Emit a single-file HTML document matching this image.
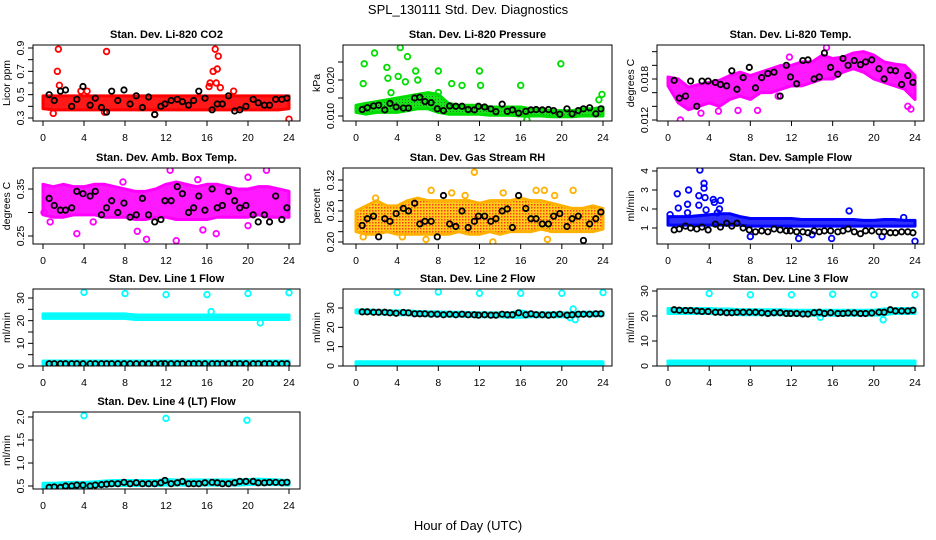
<!DOCTYPE html>
<html><head><meta charset="utf-8">
<style>
html,body{margin:0;padding:0;background:#fff;}
svg{display:block;font-family:"Liberation Sans",Arial,sans-serif;}
</style></head>
<body>
<svg id="chart" width="936" height="540" viewBox="0 0 936 540" xmlns="http://www.w3.org/2000/svg">
<defs>
<pattern id="rhpat" width="3" height="3" patternUnits="userSpaceOnUse"><rect width="3" height="3" fill="#ffc800"/><rect width="1.5" height="1.5" fill="#ff2a00"/></pattern>
<pattern id="prpat" width="3" height="3" patternUnits="userSpaceOnUse"><rect width="3" height="3" fill="#00e000"/><rect width="1" height="1" fill="#007000"/></pattern>
</defs>
<text x="468" y="14" font-size="13" text-anchor="middle">SPL_130111  Std. Dev. Diagnostics</text>
<text x="468" y="530" font-size="13" text-anchor="middle">Hour of Day (UTC)</text>
</svg>
<script>
// shared x positions (hour) of black points
const blackX=[0.6,1.1,1.7,2.2,2.8,3.3,3.9,4.6,5.1,5.7,6.2,6.7,7.3,7.9,8.5,9.1,9.7,10.3,10.9,11.5,11.9,12.5,13.1,13.6,14.2,14.7,15.2,15.8,16.5,17.0,17.5,18.1,18.7,19.2,19.8,20.5,21.0,21.6,22.1,22.7,23.3,23.8];
const bandHours=[0,1,2,3,4,5,6,7,8,9,10,11,12,13,14,15,16,17,18,19,20,21,22,23,24];
const xTicks=[0,4,8,12,16,20,24];

// Panel 1 CO2
const co2Hi=[.49,.49,.49,.49,.49,.49,.49,.49,.49,.49,.49,.49,.49,.49,.49,.49,.49,.49,.49,.49,.49,.49,.49,.49,.49];
const co2Lo=[.38,.37,.37,.37,.37,.37,.37,.37,.37,.37,.37,.37,.37,.37,.37,.37,.37,.37,.37,.37,.37,.37,.37,.37,.38];
const co2OutX=[1.5,1.4,1.6,6.2,16.8,17.1,17.0,16.6,16.9,16.2,16.3,17.3,24,10.9,3.7,4.3,18.6,1.0,6.0];
const co2OutY=[.89,.70,.58,.87,.89,.83,.72,.70,.60,.57,.60,.56,.29,.33,.53,.53,.53,.34,.35];
const co2Black=[.50,.45,.53,.54,.40,.46,.57,.41,.47,.39,.35,.53,.45,.54,.42,.49,.39,.48,.33,.40,.42,.45,.46,.44,.41,.45,.53,.47,.37,.42,.42,.49,.36,.37,.40,.46,.43,.41,.41,.46,.46,.47];
// Panel 2 Pressure
const prHi=[.013,.0135,.014,.0145,.015,.0155,.016,.0165,.016,.0135,.013,.013,.013,.0125,.0125,.0125,.0125,.012,.012,.0115,.0115,.0115,.012,.012,.0125];
const prLo=[.011,.0105,.011,.011,.011,.0115,.012,.012,.011,.0105,.0105,.0105,.0105,.0102,.0102,.0102,.010,.010,.010,.0098,.0098,.0098,.010,.010,.010];
const prOutX=[0.8,0.7,1.8,3.0,3.1,4.3,4.1,5.0,4.8,3.4,5.8,6.0,8.0,8.0,9.3,10.3,12.0,12.1,16.0,19.9,23.9,23.6,16.6];
const prOutY=[.0245,.019,.0275,.0235,.0205,.029,.021,.0265,.0195,.0165,.0225,.020,.0225,.0165,.019,.0185,.0225,.0185,.0185,.0245,.016,.0145,.009];
const prBlack=[.0118,.0123,.0128,.0130,.0117,.0135,.0125,.0122,.0122,.0150,.0152,.0140,.0137,.0120,.0115,.0128,.0127,.0127,.0118,.0117,.0127,.0125,.0120,.0112,.0133,.0113,.0117,.0108,.0113,.0117,.0118,.0117,.0118,.0115,.0105,.0120,.0106,.0115,.0120,.0123,.0106,.0120];
// Panel 3 Li-820 Temp
const tHi=[.0183,.0180,.0168,.0172,.0175,.0178,.0185,.0190,.0185,.0190,.0195,.0200,.0200,.0205,.0205,.0215,.0210,.0212,.0218,.0220,.0215,.0205,.0202,.0200,.0185];
const tLo=[.0170,.0145,.0135,.0140,.0145,.0140,.0150,.0155,.0150,.0160,.0160,.0165,.0170,.0170,.0175,.0180,.0180,.0190,.0195,.0190,.0180,.0175,.0170,.0165,.0150];
const tOutX=[1.2,3.2,4.9,6.8,8.7,15.4,23.6,23.3,10.7,11.8];
const tOutY=[.0120,.0130,.0133,.0134,.0134,.0226,.0136,.0140,.0155,.0212];
const tBlack=[.0178,.0152,.0155,.0177,.0140,.0177,.0177,.0175,.0172,.0170,.0192,.0165,.0182,.0197,.0167,.0182,.0188,.0190,.0155,.0200,.0183,.0173,.0207,.0208,.0180,.0183,.0218,.0197,.0187,.0210,.0200,.0207,.0201,.0205,.0208,.0195,.0180,.0193,.0192,.0172,.0185,.0175];
// Panel 4 Amb Box Temp
const abHi=[.36,.355,.36,.355,.355,.36,.36,.355,.35,.345,.345,.35,.36,.365,.36,.355,.36,.36,.355,.35,.35,.355,.355,.35,.345];
const abLo=[.295,.29,.29,.295,.295,.295,.29,.29,.29,.285,.285,.29,.29,.285,.285,.285,.285,.29,.29,.29,.29,.295,.29,.29,.29];
const abOutX=[3.3,9.2,10.1,13,15.6,16.9,20.0,21.8,12.4,20.0,15.1,0.1,0.7,4.9,7.8];
const abOutY=[.255,.26,.243,.24,.263,.255,.272,.39,.39,.375,.37,.30,.28,.28,.365];
const abBlack=[.33,.315,.305,.305,.31,.345,.34,.335,.345,.295,.31,.325,.30,.32,.29,.295,.33,.295,.28,.285,.325,.325,.355,.34,.30,.31,.335,.305,.35,.31,.315,.345,.325,.31,.315,.295,.28,.295,.28,.335,.285,.31];
// Panel 5 Gas Stream RH
const rhHi=[.26,.27,.28,.27,.27,.28,.285,.28,.28,.28,.28,.28,.275,.28,.28,.28,.285,.28,.28,.275,.27,.265,.265,.27,.265];
const rhLo=[.22,.215,.215,.22,.215,.215,.215,.215,.215,.215,.22,.215,.215,.22,.215,.22,.22,.22,.225,.22,.22,.22,.22,.22,.225];
const rhOutX=[11.5,13.3,7.3,9.3,10.6,14.3,17.5,18.3,19.3,21.1,18.6,1.9,0.7,4.5,6.8];
const rhOutY=[.335,.20,.30,.295,.29,.295,.30,.30,.29,.30,.205,.285,.21,.21,.205];
const rhBlack=[.232,.245,.25,.21,.245,.24,.255,.265,.26,.275,.235,.24,.24,.21,.29,.235,.23,.26,.228,.24,.25,.25,.24,.245,.26,.264,.228,.29,.265,.245,.245,.235,.235,.25,.255,.23,.245,.25,.203,.235,.245,.258];
// Panel 6 Sample Flow
const sfHi=[1.6,1.6,1.6,1.65,1.7,1.75,1.75,1.6,1.5,1.5,1.5,1.5,1.5,1.45,1.45,1.45,1.45,1.45,1.45,1.4,1.4,1.45,1.45,1.4,1.4];
const sfLo=[1.15,1.15,1.15,1.15,1.15,1.15,1.15,1.15,1.1,1.1,1.1,1.1,1.1,1.1,1.1,1.1,1.1,1.1,1.1,1.1,1.1,1.1,1.1,1.1,1.1];
const sfOutX=[0.2,0.9,1.0,1.9,2.0,1.9,3.1,3.0,3.0,3.5,3.5,3.6,3.7,4.4,4.5,5.1,5.0,4.8,8.0,12.7,14.0,15.9,17.6,20.8,24.0,22.9];
const sfOutY=[1.7,2.8,2.05,2.25,3.0,1.8,4.05,2.2,2.7,3.35,3.1,2.6,1.95,2.5,2.35,2.45,2.0,1.8,0.55,0.45,0.65,0.45,1.9,0.55,0.3,1.55];
const sfBlack=[0.9,0.95,1.1,1.0,0.95,1.05,0.9,1.2,1.05,1.25,1.1,1.25,1.0,0.9,0.8,0.85,0.8,0.95,0.9,0.85,0.85,0.8,0.8,0.75,0.85,0.8,0.85,0.85,0.8,0.85,0.95,0.8,0.7,0.85,0.85,0.8,0.8,0.75,0.75,0.8,0.8,0.75];
// Panel 7 Line 1 Flow
const l1Hi=[23,23,23,23,23,23,23,23,23,22.5,22.5,22.5,22.5,22.5,22.5,22.5,22.5,22.5,22.5,22.5,22.5,22.5,22.5,22.5,22.5];
const l1Lo=[21,21,21,21,21,21,21,21,21,20.5,20.5,20.5,20.5,20.5,20.5,20.5,20.5,20.5,20.5,20.5,20.5,20.5,20.5,20.5,20.5];
const l1Hi2=[2.2,2.2,2.2,2.2,2.2,2.2,2.2,2.2,2.2,2.2,2.2,2.2,2.2,2.2,2.2,2.2,2.2,2.2,2.2,2.2,2.2,2.2,2.2,2.2,2.2];
const l1Lo2=[0.3,0.3,0.3,0.3,0.3,0.3,0.3,0.3,0.3,0.3,0.3,0.3,0.3,0.3,0.3,0.3,0.3,0.3,0.3,0.3,0.3,0.3,0.3,0.3,0.3];
const l1OutX=[4,8,12,16,20,24,16.4,21.2];
const l1OutY=[32.5,32,31.5,31.5,32,32.3,24,19];
const l1Black=[1,1,1,1,1,1,1,1,1,1,1,1,1,1,1,1,1,1,1,1,1,1,1,1,1,1,1,1,1,1,1,1,1,1,1,1,1,1,1,1,1,1];
// Panel 8 Line 2 Flow
const l2Hi=[29,29,28.8,28.6,28.5,28.5,28.2,28,28,27.8,27.8,27.6,27.5,27.5,27.5,27.5,28.5,27.5,27.5,27.5,27.5,27.5,27.8,27.8,27.8];
const l2Lo=[27.5,27.2,27,26.8,26.5,26.5,26.2,26,26,25.8,25.8,25.6,25.5,25.5,25.5,25.2,25.2,25.5,25.5,25.5,25.5,25.5,26,26,26];
const l2Hi2=[2.2,2.2,2.2,2.2,2.2,2.2,2.2,2.2,2.2,2.2,2.2,2.2,2.2,2.2,2.2,2.2,2.2,2.2,2.2,2.2,2.2,2.2,2.2,2.2,2.2];
const l2Lo2=[0.7,0.7,0.7,0.7,0.7,0.7,0.7,0.7,0.7,0.7,0.7,0.7,0.7,0.7,0.7,0.7,0.7,0.7,0.7,0.7,0.7,0.7,0.7,0.7,0.7];
const l2OutX=[4,8,12,16,20,24,21.1,21.3,20.8];
const l2OutY=[38,38.3,37.6,37.6,37.6,38,29.5,24,25];
const l2Black=[28,28,27.8,27.8,27.8,27.5,27.3,27.7,27.5,27,27,27,26.8,26.8,26.5,26.8,26.5,26.8,26.5,26.5,26.3,26.5,26.3,26.3,26.8,26.5,26.5,27.5,26.5,27,26.5,26.5,26.3,26.5,26.8,26.3,26.5,26.8,26.8,26.8,27,27];
// Panel 9 Line 3 Flow
const l3Hi=[23,23,23,23,23,22.8,22.8,22.5,22.5,22.5,22.5,22.5,22.3,22.3,22.3,22.3,22.3,22.3,22.3,22.3,22.3,22.8,23,23,23];
const l3Lo=[21,21,21,21,21,20.8,20.8,20.5,20.5,20.5,20.5,20.5,20.3,20.3,20.3,20.3,20.3,20.3,20.3,20.3,20.3,20.5,21,21,21];
const l3Hi2=[2,2,2,2,2,2,2,2,2,2,2,2,2,2,2,2,2,2,2,2,2,2,2,2,2];
const l3Lo2=[0.5,0.5,0.5,0.5,0.5,0.5,0.5,0.5,0.5,0.5,0.5,0.5,0.5,0.5,0.5,0.5,0.5,0.5,0.5,0.5,0.5,0.5,0.5,0.5,0.5];
const l3OutX=[4,8,12,16,20,24,20.9,14.8];
const l3OutY=[29,28.5,28.5,28.7,28.5,28.5,18.5,19.5];
const l3Black=[22.5,22.3,22.2,22.2,22,21.8,21.8,21.5,21.5,21.3,21.3,21.5,21.5,21.5,21.5,21.3,21,21.3,21.3,21,21,21,20.8,20.8,21.3,21.5,21,21.3,21,21,21.2,21.2,21,21,21.2,21.5,21.5,22.5,22,22,22,22.3];
// Panel 10 Line 4 Flow
const l4Hi=[.56,.56,.57,.58,.58,.59,.61,.62,.62,.62,.62,.62,.64,.63,.63,.63,.63,.63,.63,.63,.64,.65,.64,.63,.62];
const l4Lo=[.44,.45,.46,.47,.47,.49,.50,.51,.51,.51,.51,.51,.52,.52,.52,.52,.52,.52,.52,.52,.53,.53,.53,.53,.52];
const l4OutX=[4,12,19.9];
const l4OutY=[2.03,1.97,1.93];
const l4Black=[.47,.48,.47,.50,.50,.52,.52,.50,.52,.53,.54,.55,.55,.58,.55,.57,.55,.55,.55,.57,.62,.55,.57,.60,.55,.55,.55,.57,.58,.57,.55,.55,.57,.60,.60,.60,.57,.57,.58,.58,.57,.58];

const svg=document.getElementById('chart');
const NS='http://www.w3.org/2000/svg';
function mk(tag,attrs,parent){const e=document.createElementNS(NS,tag);for(const k in attrs)e.setAttribute(k,attrs[k]);(parent||svg).appendChild(e);return e;}

const cols=[{bx0:33,bx1:300,x0:43,x1:289},{bx0:343,bx1:612,x0:356,x1:603},{bx0:657,bx1:924,x0:668,x1:915}];
const rows=[{by0:45,by1:121},{by0:168,by1:244},{by0:289,by1:366},{by0:412,by1:489}];

const panels=[
 {name:'co2',title:'Stan. Dev. Li-820 CO2',ylab:'Licor ppm',c:0,r:0,ref:[0.3,118,0.9,48],ticks:[.3,.4,.5,.6,.7,.8,.9],labels:[.3,.5,.7,.9],dec:1,col:'#ff0000',fill:'#ff0000',hi:co2Hi,lo:co2Lo,ox:co2OutX,oy:co2OutY,blk:co2Black},
 {name:'pressure',title:'Stan. Dev. Li-820 Pressure',ylab:'kPa',c:1,r:0,ref:[0.010,116,0.020,80],ticks:[.010,.015,.020,.025],labels:[.010,.020],dec:3,col:'#00dd00',fill:'url(#prpat)',hi:prHi,lo:prLo,ox:prOutX,oy:prOutY,blk:prBlack},
 {name:'li820-temp',title:'Stan. Dev. Li-820 Temp.',ylab:'degrees C',c:2,r:0,ref:[0.012,120,0.018,79],ticks:[.012,.014,.016,.018,.020,.022],labels:[.012,.018],dec:3,col:'#ff00ff',fill:'#ff00ff',hi:tHi,lo:tLo,ox:tOutX,oy:tOutY,blk:tBlack},
 {name:'amb-box-temp',title:'Stan. Dev. Amb. Box Temp.',ylab:'degrees C',c:0,r:1,ref:[0.25,236,0.35,189],ticks:[.25,.30,.35],labels:[.25,.35],dec:2,col:'#ff00ff',fill:'#ff00ff',hi:abHi,lo:abLo,ox:abOutX,oy:abOutY,blk:abBlack},
 {name:'gas-stream-rh',title:'Stan. Dev. Gas Stream RH',ylab:'percent',c:1,r:1,ref:[0.20,242,0.32,180],ticks:[.20,.22,.24,.26,.28,.30,.32],labels:[.20,.26,.32],dec:2,col:'#ffb000',fill:'url(#rhpat)',hi:rhHi,lo:rhLo,ox:rhOutX,oy:rhOutY,blk:rhBlack},
 {name:'sample-flow',title:'Stan. Dev. Sample Flow',ylab:'ml/min',c:2,r:1,ref:[1,228,4,171],ticks:[1,2,3,4],labels:[1,2,3,4],dec:0,col:'#0000ff',fill:'#1a1aff',hi:sfHi,lo:sfLo,ox:sfOutX,oy:sfOutY,blk:sfBlack},
 {name:'line1-flow',title:'Stan. Dev. Line 1 Flow',ylab:'ml/min',c:0,r:2,ref:[0,366,30,298],ticks:[0,5,10,15,20,25,30],labels:[0,10,20,30],dec:0,col:'#00ffff',fill:'#00f0f0',hi:l1Hi,lo:l1Lo,hi2:l1Hi2,lo2:l1Lo2,ox:l1OutX,oy:l1OutY,blk:l1Black},
 {name:'line2-flow',title:'Stan. Dev. Line 2 Flow',ylab:'ml/min',c:1,r:2,ref:[0,366,30,308],ticks:[0,10,20,30],labels:[0,10,20,30],dec:0,col:'#00ffff',fill:'#00f0f0',hi:l2Hi,lo:l2Lo,hi2:l2Hi2,lo2:l2Lo2,ox:l2OutX,oy:l2OutY,blk:l2Black},
 {name:'line3-flow',title:'Stan. Dev. Line 3 Flow',ylab:'ml/min',c:2,r:2,ref:[0,366,30,291],ticks:[0,10,20,30],labels:[0,10,20,30],dec:0,col:'#00ffff',fill:'#00f0f0',hi:l3Hi,lo:l3Lo,hi2:l3Hi2,lo2:l3Lo2,ox:l3OutX,oy:l3OutY,blk:l3Black},
 {name:'line4-flow',title:'Stan. Dev. Line 4 (LT) Flow',ylab:'ml/min',c:0,r:3,ref:[0.5,486,2.0,417],ticks:[.5,1,1.5,2],labels:[.5,1,1.5,2],dec:1,col:'#00ffff',fill:'#00f0f0',hi:l4Hi,lo:l4Lo,ox:l4OutX,oy:l4OutY,blk:l4Black}
];

panels.forEach(p=>{
  const C=cols[p.c],R=rows[p.r];
  const xs=h=>C.x0+(C.x1-C.x0)*h/24;
  const ys=v=>p.ref[1]+(v-p.ref[0])*(p.ref[3]-p.ref[1])/(p.ref[2]-p.ref[0]);
  const g=mk('g',{});
  
  
  const cid='clip-'+p.name;
  const cp=mk('clipPath',{id:cid},g);
  mk('rect',{x:C.bx0,y:R.by0,width:C.bx1-C.bx0,height:R.by1-R.by0},cp);
  const data=mk('g',{'clip-path':'url(#'+cid+')'},g);
  function band(hi,lo,nm){
    let pts=bandHours.map((h,i)=>xs(h)+','+ys(hi[i]));
    for(let i=bandHours.length-1;i>=0;i--)pts.push(xs(bandHours[i])+','+ys(lo[i]));
    const b=mk('polygon',{points:pts.join(' '),fill:p.fill,'fill-opacity':0.9,stroke:p.col,'stroke-width':3,'stroke-linejoin':'round'},data);
    
    
  }
  band(p.hi,p.lo,'band-'+p.name);
  if(p.hi2)band(p.hi2,p.lo2,'band-low-'+p.name);
  p.ox.forEach((h,i)=>{
    const c=mk('circle',{cx:xs(h),cy:ys(p.oy[i]),r:2.8,fill:'none',stroke:p.fill.startsWith('url(#rh')?'#ffb000':p.col,'stroke-width':1.8},data);
    
    
  });
  const n=Math.min(blackX.length,p.blk.length);
  for(let i=0;i<n;i++){
    const c=mk('circle',{cx:xs(blackX[i]),cy:ys(p.blk[i]),r:2.7,fill:'none',stroke:'#000','stroke-width':1.8},data);
    
    
  }
  const box=mk('rect',{x:C.bx0,y:R.by0,width:C.bx1-C.bx0,height:R.by1-R.by0,fill:'none',stroke:'#000','stroke-width':1},g);
  
  
  const t=mk('text',{x:(C.bx0+C.bx1)/2,y:R.by0-7,'font-size':11,'font-weight':'bold','text-anchor':'middle'},g);
  t.textContent=p.title;
  
  
  const xa=mk('g',{},g);
  
  
  mk('line',{x1:xs(0),x2:xs(24),y1:R.by1,y2:R.by1,stroke:'#000'},xa);
  xTicks.forEach(h=>{
    mk('line',{x1:xs(h),x2:xs(h),y1:R.by1,y2:R.by1+5,stroke:'#000'},xa);
    const l=mk('text',{x:xs(h),y:R.by1+20,'font-size':10.5,'text-anchor':'middle'},xa);
    l.textContent=h;
    
    
  });
  const ya=mk('g',{},g);
  
  
  const yx=C.bx0;
  mk('line',{x1:yx,x2:yx,y1:ys(p.ticks[0]),y2:ys(p.ticks[p.ticks.length-1]),stroke:'#000'},ya);
  p.ticks.forEach(v=>mk('line',{x1:yx-5,x2:yx,y1:ys(v),y2:ys(v),stroke:'#000'},ya));
  p.labels.forEach(v=>{
    const x=yx-9,y=ys(v);
    const l=mk('text',{x:x,y:y,'font-size':10.5,'text-anchor':'middle',transform:'rotate(-90 '+x+' '+y+')'},ya);
    l.textContent=v.toFixed(p.dec);
    
    
  });
  const tx=C.bx0-23,ty=(R.by0+R.by1)/2;
  const yt=mk('text',{x:tx,y:ty,'font-size':10.5,'text-anchor':'middle',transform:'rotate(-90 '+tx+' '+ty+')'},ya);
  yt.textContent=p.ylab;
  
  
});
</script>
</body></html>
